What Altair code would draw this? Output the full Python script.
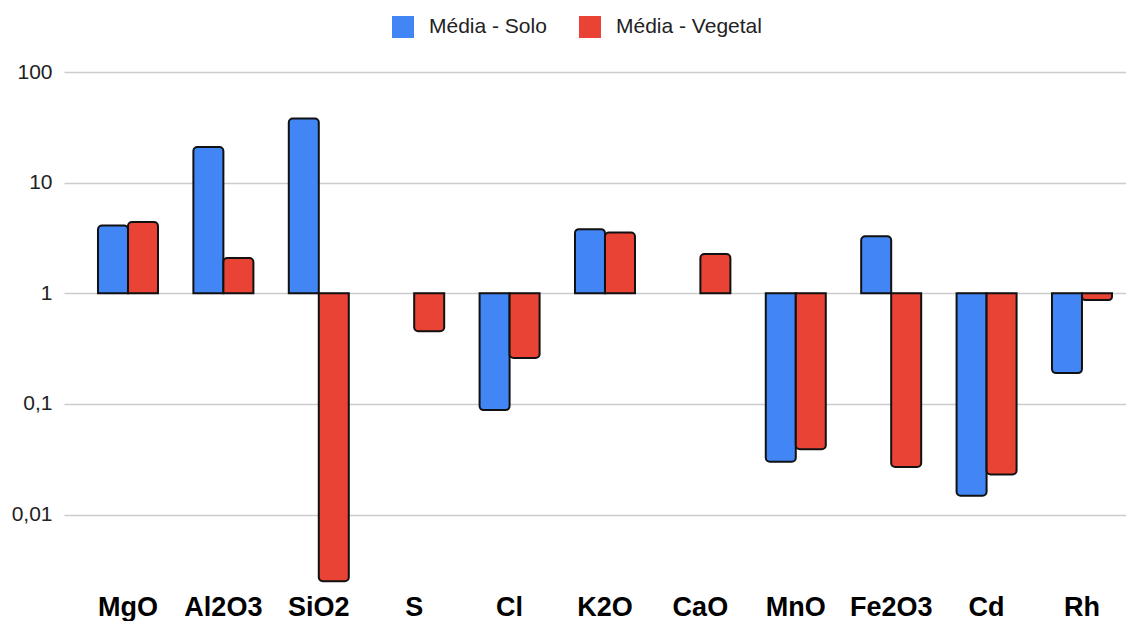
import altair as alt
import pandas as pd

categories = ["MgO", "Al2O3", "SiO2", "S", "Cl", "K2O", "CaO", "MnO", "Fe2O3", "Cd", "Rh"]
series_names = ["Média - Solo", "Média - Vegetal"]
solo = [4.1, 21, 38, None, 0.088, 3.8, None, 0.030, 3.28, 0.0148, 0.19]
vegetal = [4.4, 2.08, 0.0025, 0.455, 0.26, 3.54, 2.26, 0.039, 0.027, 0.023, 0.87]
y_ticks = [0.01, 0.1, 1, 10, 100]
colors = ["#4285F4", "#E94335"]

rows = []
for cat, s, v in zip(categories, solo, vegetal):
    if s is not None:
        rows.append({"el": cat, "serie": series_names[0], "val": s, "base": 1})
    if v is not None:
        rows.append({"el": cat, "serie": series_names[1], "val": v, "base": 1})
df = pd.DataFrame(rows)

FONT = "Liberation Sans"

base = alt.Chart(df).encode(
    x=alt.X("el:N", sort=categories, title=None,
            scale=alt.Scale(paddingInner=0.371, paddingOuter=0.2516, align=0.708),
            axis=alt.Axis(labelAngle=0, labelFontSize=27, labelFontWeight="bold",
                          labelColor="#000000", labelFont=FONT, domain=False,
                          ticks=False, tickSize=0, labelPadding=10, grid=False)),
    xOffset=alt.XOffset("serie:N", sort=series_names,
                        scale=alt.Scale(domain=series_names, paddingInner=0, paddingOuter=0)),
    y=alt.Y("val:Q", title=None,
            scale=alt.Scale(type="log", domain=[0.00236, 100], nice=False, zero=False),
            axis=alt.Axis(values=y_ticks, labelFontSize=21, labelColor="#222222",
                          labelFont=FONT, domain=False, ticks=False, tickSize=0,
                          labelPadding=12, grid=True, gridColor="#cccccc", gridWidth=1.6,
                          labelExpr="replace('' + datum.value, '.', ',')")),
    y2=alt.Y2("base:Q"),
    color=alt.Color("serie:N", sort=series_names,
                    scale=alt.Scale(domain=series_names, range=colors),
                    legend=alt.Legend(title=None, orient="none", legendX=328, legendY=-56,
                                      direction="horizontal", symbolType="square",
                                      symbolSize=484, symbolStrokeWidth=0,
                                      labelFontSize=21, labelFont=FONT, labelColor="#222222",
                                      labelOffset=15, columnPadding=32)),
)

pos = base.transform_filter("datum.val >= 1").mark_bar(
    stroke="#111111", strokeWidth=2, cornerRadiusTopLeft=4, cornerRadiusTopRight=4
)
neg = base.transform_filter("datum.val < 1").mark_bar(
    stroke="#111111", strokeWidth=2, cornerRadiusBottomLeft=4, cornerRadiusBottomRight=4
)

chart = alt.layer(pos, neg).properties(
    width=1062, height=512,
    padding={"left": 56, "top": 64, "right": 0, "bottom": 37},
    autosize="none",
    background="white",
).configure_view(strokeWidth=0, stroke="transparent")

chart.save("out.html", embed_options={"renderer": "svg", "actions": False})
